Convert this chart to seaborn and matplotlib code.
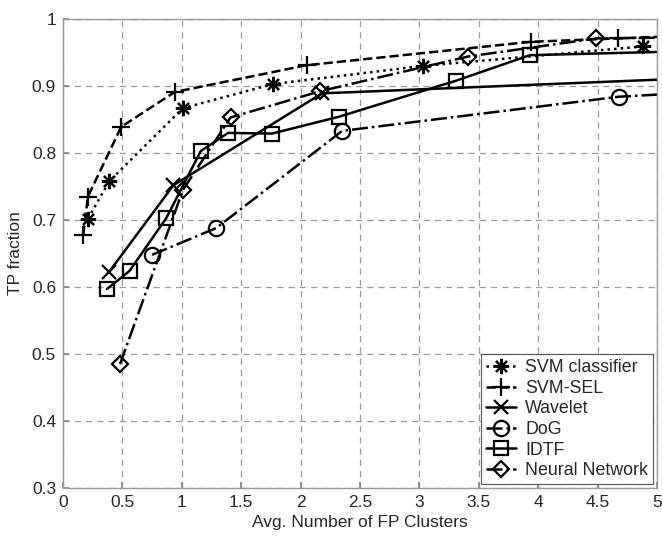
import matplotlib
matplotlib.use("Agg")
import matplotlib.pyplot as plt
import seaborn as sns
import numpy as np

sns.set_theme(style="white")
plt.rcParams['font.family'] = ['Liberation Sans', 'DejaVu Sans']

svm_x = [0.21, 0.39, 1.01, 1.77, 3.03, 4.88]
svm_y = [0.702, 0.758, 0.867, 0.903, 0.930, 0.959]

sel_x = [0.17, 0.21, 0.49, 0.94, 2.05, 3.94, 4.67, 5.5]
sel_y = [0.678, 0.735, 0.839, 0.891, 0.931, 0.966, 0.971, 0.977]

wav_x = [0.39, 0.93, 2.18, 5.5]
wav_y = [0.623, 0.752, 0.889, 0.913]

dog_x = [0.75, 1.29, 2.35, 4.68, 5.5]
dog_y = [0.648, 0.688, 0.833, 0.884, 0.892]

idtf_x = [0.37, 0.56, 0.87, 1.16, 1.39, 1.76, 2.32, 3.31, 3.93, 5.5]
idtf_y = [0.597, 0.624, 0.703, 0.803, 0.830, 0.829, 0.854, 0.908, 0.946, 0.953]

nn_x = [0.48, 1.01, 1.41, 2.16, 3.41, 4.49, 5.5]
nn_y = [0.485, 0.745, 0.853, 0.892, 0.944, 0.971, 0.973]

series = [
    ("SVM classifier", svm_x, svm_y, (8, 2, 0), ':', 11, 'k'),
    ("SVM-SEL", sel_x, sel_y, '+', '--', 13, 'k'),
    ("Wavelet", wav_x, wav_y, 'x', '-', 10, 'k'),
    ("DoG", dog_x, dog_y, 'o', '-.', 11, 'none'),
    ("IDTF", idtf_x, idtf_y, 's', '-', 10, 'none'),
    ("Neural Network", nn_x, nn_y, 'D', '-.', 8, 'none'),
]

fig = plt.figure(figsize=(6.62, 5.36), dpi=100)
ax = fig.add_axes([63/662, 1-488/536, (657-63)/662, (488-19)/536])

for name, xs, ys, mk, ls, ms, mfc in series:
    sns.lineplot(x=xs, y=ys, ax=ax, sort=False, color='black', linewidth=1.8,
                 linestyle=ls, marker=mk, markersize=ms, markerfacecolor=mfc,
                 markeredgecolor='black', markeredgewidth=1.6, label=name,
                 estimator=None)

ax.set_xlim(0, 5)
ax.set_ylim(0.3, 1.0)
ax.set_xticks(np.arange(0, 5.01, 0.5))
ax.set_xticklabels(['0', '0.5', '1', '1.5', '2', '2.5', '3', '3.5', '4', '4.5', '5'])
ax.set_yticks(np.arange(0.3, 1.001, 0.1))
ax.set_yticklabels(['0.3', '0.4', '0.5', '0.6', '0.7', '0.8', '0.9', '1'])
ax.grid(True, color='#999999', linestyle=(0, (5, 4)), linewidth=0.9)
ax.tick_params(direction='in', length=4, color='#888888', labelsize=12.5,
               top=False, right=False, left=True, bottom=True, pad=5)
for s in ax.spines.values():
    s.set_color('#999999')
    s.set_linewidth(1.0)
ax.set_xlabel('Avg. Number of FP Clusters', fontsize=12.5, labelpad=4)
ax.set_ylabel('TP fraction', fontsize=12.5, labelpad=6)

leg = ax.legend(loc='lower right', fontsize=12.8, frameon=True, fancybox=False,
                edgecolor='#555555', framealpha=1, borderpad=0.3,
                labelspacing=0.2, handlelength=1.7, handletextpad=0.5,
                borderaxespad=0.2)
leg.get_frame().set_linewidth(0.8)

fig.savefig('out.png', dpi=100)
